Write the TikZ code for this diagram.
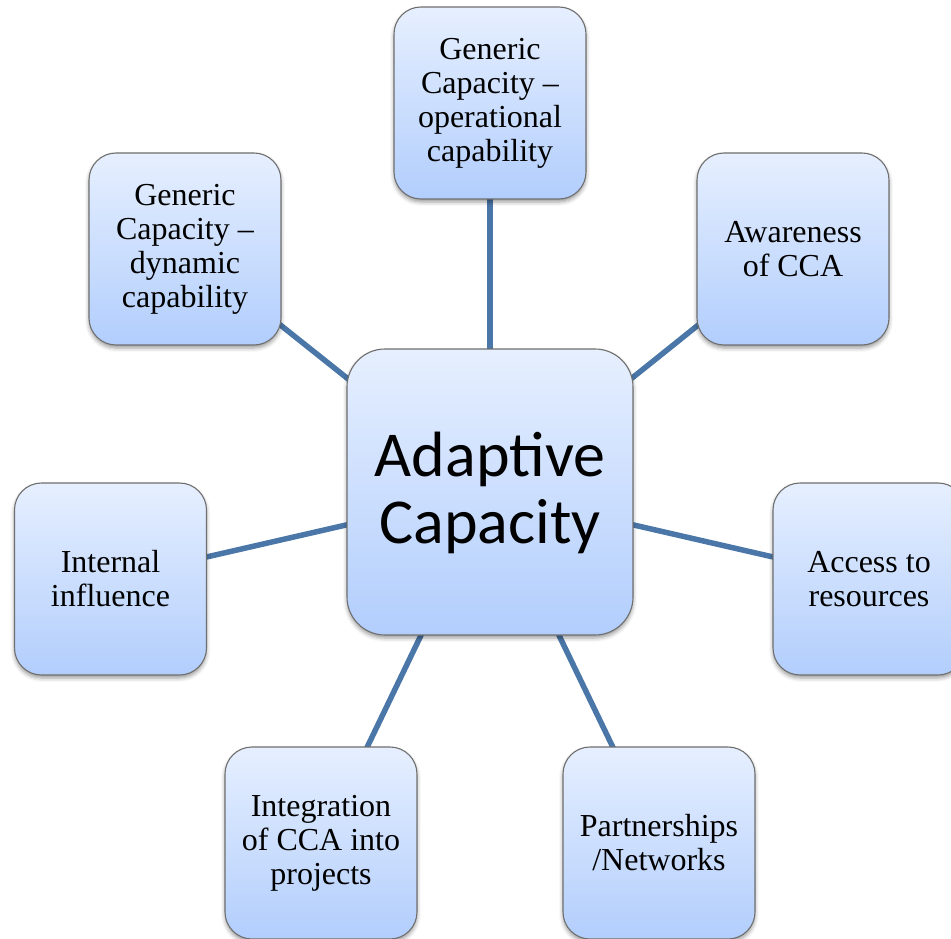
\documentclass[tikz,border=0pt]{standalone}
\usepackage{fontspec}
\setmainfont{Liberation Serif}
\newfontfamily\hubfont{Carlito}
\usetikzlibrary{shadows.blur,backgrounds}
\definecolor{boxtop}{HTML}{E6EFFE}
\definecolor{boxbot}{HTML}{B2CEFD}
\definecolor{boxedge}{HTML}{6F6F6F}
\definecolor{linkblue}{HTML}{4A76A8}

\begin{document}
\begin{tikzpicture}[x=1pt,y=-1pt,
  card/.style={rectangle, rounded corners=27pt, draw=boxedge, line width=1.1pt,
    top color=boxtop, bottom color=boxbot,
    minimum width=192pt, minimum height=192pt, inner sep=0pt, align=center,
    font=\fontsize{32}{34}\selectfont,
    blur shadow={shadow xshift=0pt, shadow yshift=-3pt,
      shadow blur radius=4pt, shadow opacity=40}},
  hub/.style={card, rounded corners=38pt, minimum width=286pt, minimum height=286pt,
    font=\hubfont\fontsize{64}{67}\selectfont},
  link/.style={draw=linkblue, line width=5.5pt}]

\useasboundingbox (0,0) rectangle (951,939);
\clip (0,0) rectangle (951,939);

% central concept
\node[hub] (hub) at (490,492) {\strut Adaptive\\Capacity};

% surrounding components
\node[card] (op)       at (490,103)   {Generic\\Capacity –\\operational\\capability};
\node[card] (dyn)      at (185,249)   {Generic\\Capacity –\\dynamic\\capability};
\node[card] (aware)    at (793,249)   {Awareness\\of CCA};
\node[card] (internal) at (110.5,579) {Internal\\influence};
\node[card] (access)   at (869,579)   {Access to\\resources};
\node[card] (integ)    at (321,843)   {Integration\\of CCA into\\projects};
\node[card] (partner)  at (659,843)   {Partnerships\\/Networks};

% spokes, drawn behind the boxes
\begin{scope}[on background layer]
  \foreach \n in {op,dyn,aware,internal,access,integ,partner}
    \draw[link] (hub.center) -- (\n.center);
\end{scope}
\end{tikzpicture}
\end{document}
